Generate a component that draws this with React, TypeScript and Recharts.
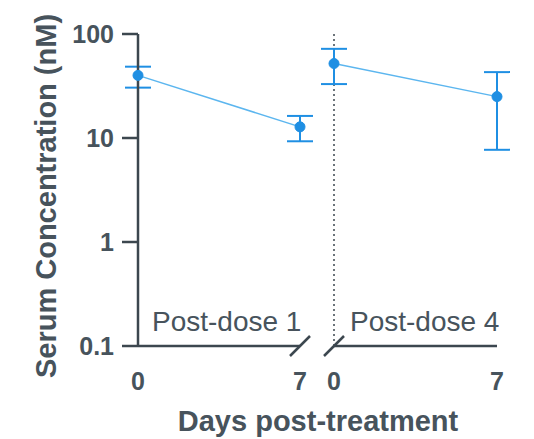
import React from 'react';
import { LineChart, Line, XAxis, YAxis, ErrorBar, ReferenceLine, ReferenceDot } from 'recharts';

const days = [0, 7];
const dose1Mean = [40, 12.8];
const dose1Low = [30.5, 9.3];
const dose1High = [48.5, 16.3];
const dose4Mean = [52, 25];
const dose4Low = [33, 7.7];
const dose4High = [72, 43];
const yTicks = [0.1, 1, 10, 100];
const panelLabels = ['Post-dose 1', 'Post-dose 4'];

const AXIS = '#3c474f';
const TEXT = '#47535c';
const BLUE = '#1f8fe3';
const LINE = '#5cb6ef';
const FONT = '"Liberation Sans", Arial, sans-serif';

const build = (mean: number[], low: number[], high: number[]) =>
  days.map((d, i) => ({ day: d, value: mean[i], err: [mean[i] - low[i], high[i] - mean[i]] }));

const dose1 = build(dose1Mean, dose1Low, dose1High);
const dose4 = build(dose4Mean, dose4Low, dose4High);

// axis break mark
const Slash = (props: any) => {
  const { cx, cy } = props;
  return <line x1={cx - 10} y1={cy + 10} x2={cx + 10} y2={cy - 10} stroke={AXIS} strokeWidth={2.5} />;
};

const tickStyle = { fill: TEXT, fontSize: 25, fontWeight: 700, fontFamily: FONT };

export default function App() {
  return (
    <div style={{ position: 'absolute', left: 0, top: 0, width: 534, height: 439, background: '#fff' }}>
      <div style={{ position: 'absolute', left: 0, top: 0 }}>
        <LineChart width={320} height={439} data={dose1} margin={{ top: 34, right: 20, bottom: 33, left: 0 }}>
          <YAxis
            scale="log"
            domain={[0.1, 100]}
            ticks={yTicks}
            allowDataOverflow
            width={138}
            tickSize={16}
            tickMargin={8}
            tick={tickStyle}
            stroke={AXIS}
            strokeWidth={2.5}
            tickFormatter={(v: number) => String(v)}
          />
          <XAxis
            type="number"
            dataKey="day"
            domain={[0, 7]}
            ticks={days}
            height={60}
            tickLine={false}
            tickSize={0}
            tickMargin={26}
            tick={tickStyle}
            stroke={AXIS}
            strokeWidth={2.5}
          />
          <Line
            dataKey="value"
            stroke={LINE}
            strokeWidth={1.5}
            dot={{ r: 5, fill: BLUE, stroke: BLUE, strokeWidth: 1 }}
            isAnimationActive={false}
          >
            <ErrorBar dataKey="err" width={13} stroke={BLUE} strokeWidth={2} direction="y" />
          </Line>
          <ReferenceDot x={7} y={0.1} ifOverflow="visible" shape={Slash} />
        </LineChart>
      </div>
      <div style={{ position: 'absolute', left: 314, top: 0 }}>
        <LineChart width={220} height={439} data={dose4} margin={{ top: 34, right: 37, bottom: 33, left: 20 }}>
          <YAxis hide scale="log" domain={[0.1, 100]} ticks={yTicks} allowDataOverflow />
          <XAxis
            type="number"
            dataKey="day"
            domain={[0, 7]}
            ticks={days}
            height={60}
            tickLine={false}
            tickSize={0}
            tickMargin={26}
            tick={tickStyle}
            stroke={AXIS}
            strokeWidth={2.5}
          />
          <ReferenceLine x={0} stroke={AXIS} strokeWidth={1.5} strokeDasharray="2 3" />
          <Line
            dataKey="value"
            stroke={LINE}
            strokeWidth={1.5}
            dot={{ r: 5, fill: BLUE, stroke: BLUE, strokeWidth: 1 }}
            isAnimationActive={false}
          >
            <ErrorBar dataKey="err" width={13} stroke={BLUE} strokeWidth={2} direction="y" />
          </Line>
          <ReferenceDot x={0} y={0.1} ifOverflow="visible" shape={Slash} />
        </LineChart>
      </div>
      <svg width={534} height={439} style={{ position: 'absolute', left: 0, top: 0, pointerEvents: 'none' }}>
        <text
          x={46}
          y={196}
          transform="rotate(-90 46 196)"
          textAnchor="middle"
          dominantBaseline="central"
          fontSize={29}
          fontWeight={700}
          fontFamily={FONT}
          fill={TEXT}
        >
          Serum Concentration (nM)
        </text>
        <text x={318} y={431} textAnchor="middle" fontSize={29} fontWeight={700} fontFamily={FONT} fill={TEXT}>
          Days post-treatment
        </text>
        <text x={152} y={331} fontSize={28} fontFamily={FONT} fill={TEXT}>
          {panelLabels[0]}
        </text>
        <text x={350} y={331} fontSize={28} fontFamily={FONT} fill={TEXT}>
          {panelLabels[1]}
        </text>
      </svg>
    </div>
  );
}
